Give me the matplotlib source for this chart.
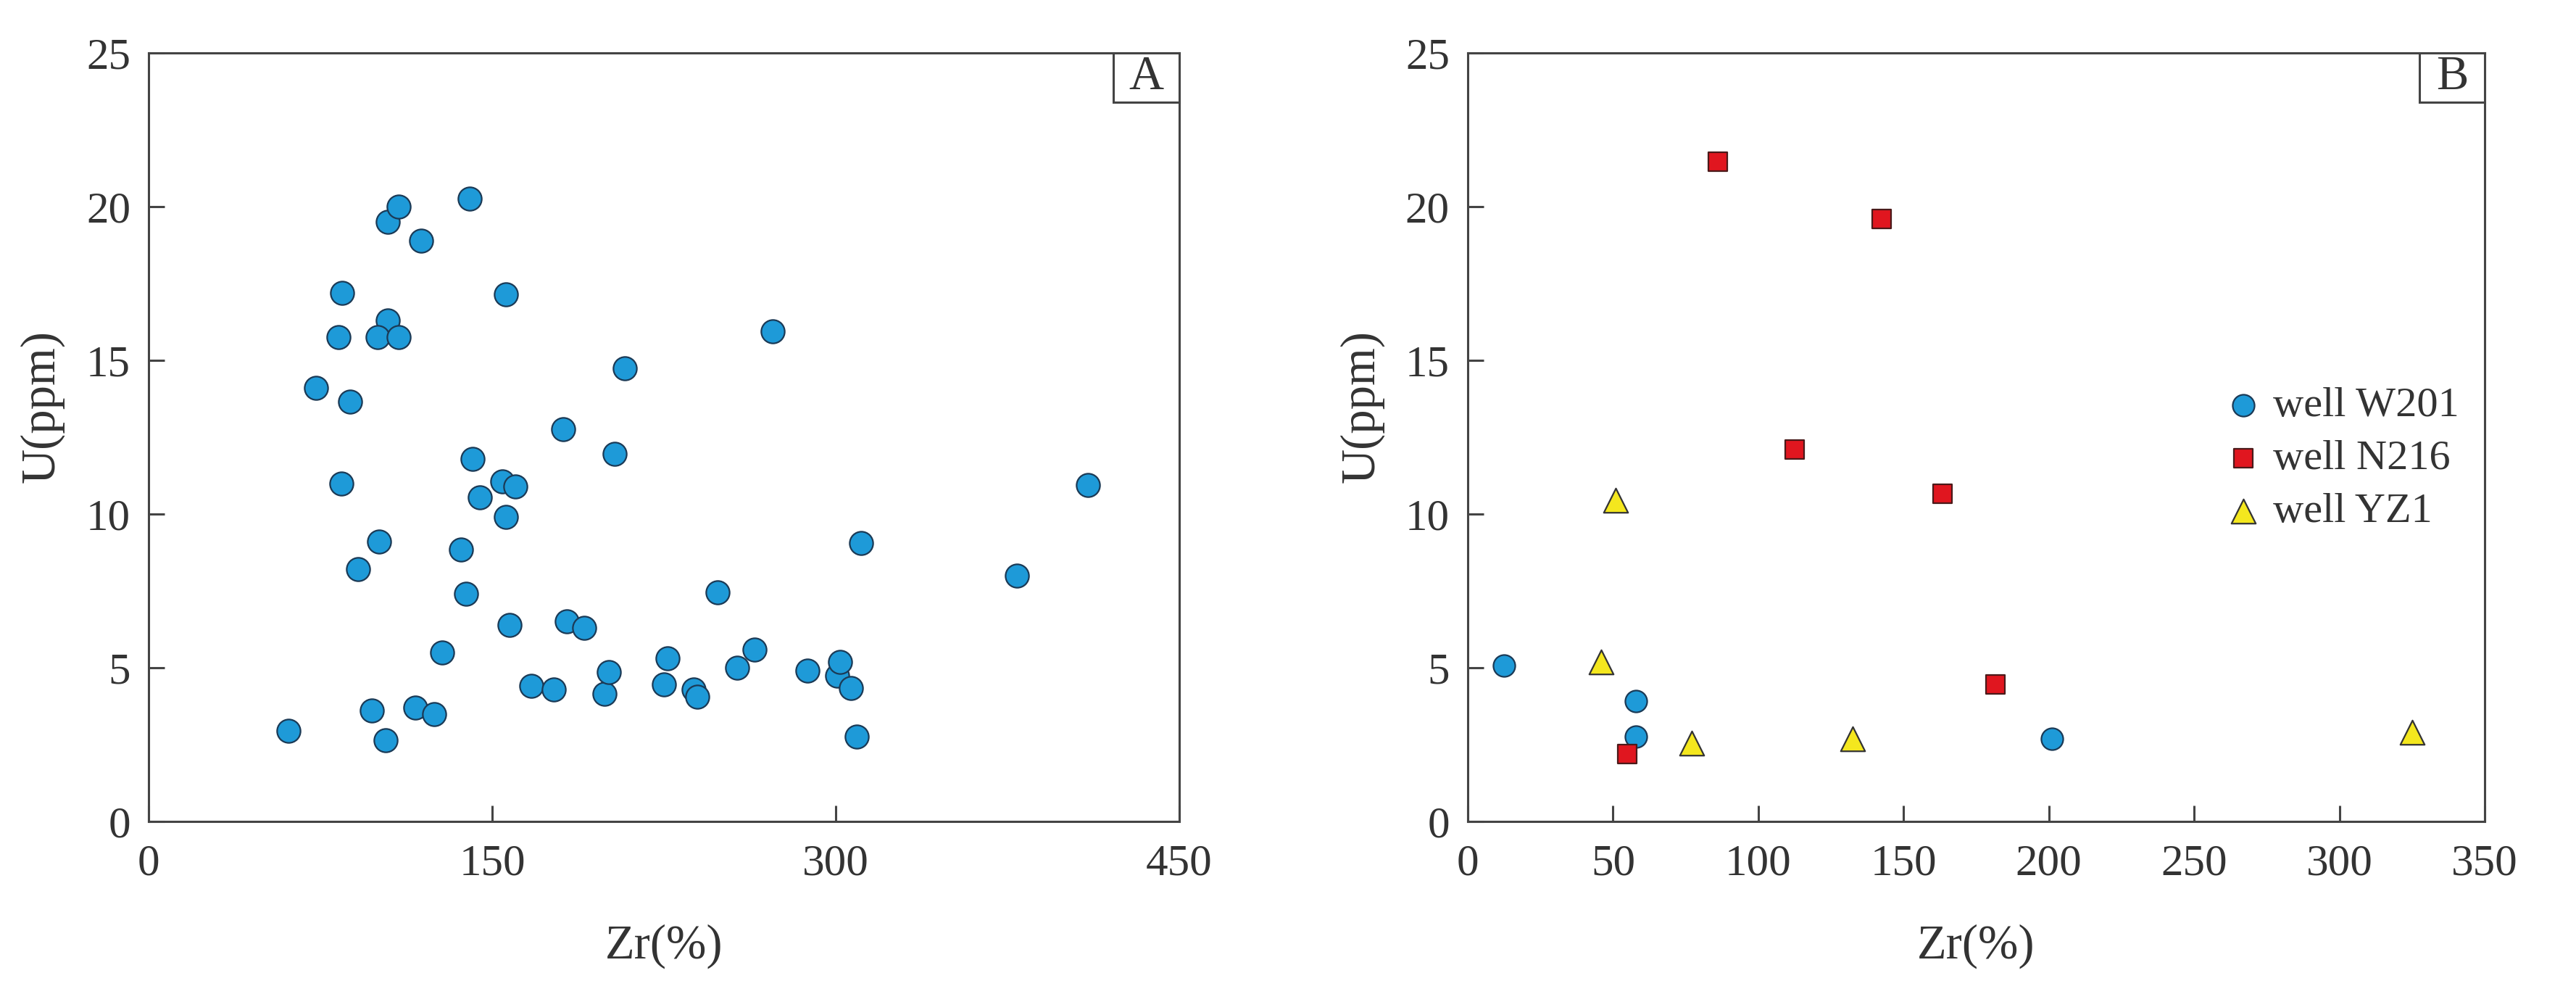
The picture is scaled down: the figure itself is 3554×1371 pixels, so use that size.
import matplotlib
matplotlib.use("Agg")
import matplotlib.pyplot as plt
from matplotlib.patches import Rectangle

plt.rcParams['font.family'] = ['Liberation Serif', 'DejaVu Serif']

# Panel A: all samples
zr_a = [61, 73, 84.5, 83, 88, 84, 91.5, 100.5, 97.5, 103.5, 104.5, 109, 119, 104.5,
        100, 109, 116.5, 124.5, 128, 136.5, 138.5, 140, 141.5, 144.5, 154.5, 160,
        156, 156, 157.5, 167, 177, 181, 182.5, 190, 199, 201, 203.5, 208, 225,
        226.5, 238, 239.5, 248.5, 257, 264.5, 272.5, 287.5, 300.5, 302, 306.5,
        309, 311, 379, 410]
u_a = [2.95, 14.1, 17.2, 15.75, 13.65, 11.0, 8.2, 9.1, 3.6, 2.65, 19.5, 20.0, 18.9,
       16.3, 15.75, 15.75, 3.7, 3.5, 5.5, 8.85, 7.4, 20.25, 11.8, 10.55, 11.05, 10.9,
       9.9, 17.15, 6.4, 4.4, 4.3, 12.75, 6.5, 6.3, 4.15, 4.85, 11.95, 14.75, 4.45,
       5.3, 4.3, 4.05, 7.45, 5.0, 5.6, 15.95, 4.9, 4.75, 5.2, 4.35, 2.75, 9.05,
       8.0, 10.95]

# Panel B: by well
zr_w201 = [12.5, 58, 58, 201]
u_w201 = [5.07, 3.92, 2.76, 2.68]
zr_n216 = [86, 142.5, 112.5, 163.5, 181.5, 55]
u_n216 = [21.45, 19.6, 12.1, 10.65, 4.45, 2.2]
zr_yz1 = [51, 46, 77, 132.5, 325]
u_yz1 = [10.45, 5.2, 2.55, 2.7, 2.9]

text_c = '#333333'
spine_c = '#444444'
blue = '#1E9AD8'
red = '#E0161F'
yellow = '#F4E71E'

fig = plt.figure(figsize=(35.55, 13.71), dpi=100)
ax_a = fig.add_axes([0.0577, 0.1736, 0.4000, 0.7732])
ax_b = fig.add_axes([0.5696, 0.1736, 0.3947, 0.7732])


def style_axes(ax, xmax, xticks, tag):
    ax.set_xlim(0, xmax)
    ax.set_ylim(0, 25)
    ax.set_xticks(xticks)
    ax.set_yticks([0, 5, 10, 15, 20, 25])
    for s in ax.spines.values():
        s.set_color(spine_c)
        s.set_linewidth(2.2)
    ax.tick_params(direction='in', length=16, width=2.2, color=spine_c,
                   labelsize=44, labelcolor=text_c, top=False, right=False)
    ax.tick_params(axis='x', pad=22)
    ax.tick_params(axis='y', pad=18)
    ax.set_xlabel('Zr(%)', fontsize=48, color=text_c, labelpad=40)
    ax.set_ylabel('U(ppm)', fontsize=48, color=text_c)
    ax.yaxis.set_label_coords(-0.082, 0.54)
    w, h = 0.064, 0.064
    ax.add_patch(Rectangle((1 - w, 1 - h), w, h, transform=ax.transAxes,
                           facecolor='white', edgecolor=spine_c, linewidth=2.2,
                           clip_on=False, zorder=5))
    ax.text(1 - w / 2, 1 - h / 2, tag, transform=ax.transAxes, fontsize=48,
            color=text_c, ha='center', va='center', zorder=6)


ax_a.scatter(zr_a, u_a, s=540, marker='o', facecolor=blue, edgecolor='#1B3A56',
             linewidths=1.6, zorder=3)
style_axes(ax_a, 450, [0, 150, 300, 450], 'A')

ax_b.scatter(zr_w201, u_w201, s=470, marker='o', facecolor=blue, edgecolor='#1B3A56',
             linewidths=1.6, zorder=3, label='well W201')
ax_b.scatter(zr_n216, u_n216, s=340, marker='s', facecolor=red, edgecolor='#4A1A1A',
             linewidths=1.6, zorder=3, label='well N216')
ax_b.scatter(zr_yz1, u_yz1, s=580, marker='^', facecolor=yellow, edgecolor='#333333',
             linewidths=1.6, zorder=3, label='well YZ1')
style_axes(ax_b, 350, [0, 50, 100, 150, 200, 250, 300, 350], 'B')

leg = ax_b.legend(loc='upper left', bbox_to_anchor=(0.725, 0.588), frameon=False,
                  fontsize=42, handletextpad=0.2, labelspacing=0.35,
                  handlelength=1.0, borderaxespad=0)
for t in leg.get_texts():
    t.set_color(text_c)

fig.savefig('out.png', dpi=100, facecolor='white')
